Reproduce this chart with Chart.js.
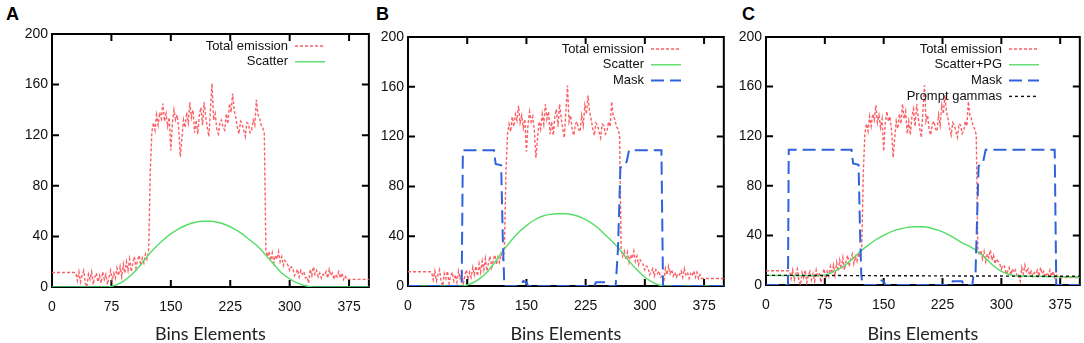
<!DOCTYPE html>
<html>
<head>
<meta charset="utf-8">
<script src="https://cdn.jsdelivr.net/npm/chart.js@4.4.1/dist/chart.umd.min.js"></script>
<style>
    body { margin: 0; background: #fff; width: 1084px; height: 343px; position: relative; overflow: hidden; }
    canvas { position: absolute; top: 0; }
    .tag { position: absolute; top: 6px; font: bold 18px/17px "Liberation Sans", Arial, sans-serif; color: #000; }
</style>
</head>
<body>
<div class="tag" style="left:6px">A</div>
<div class="tag" style="left:376px">B</div>
<div class="tag" style="left:742px">C</div>
<canvas id="chartA" width="373" height="343" style="left:0px"></canvas>
<canvas id="chartB" width="372" height="343" style="left:356px"></canvas>
<canvas id="chartC" width="370" height="343" style="left:714px"></canvas>
<script>
const xTicks = [0, 75, 150, 225, 300, 375];
const yTicks = [0, 40, 80, 120, 160, 200];

// total emission, one value every 2 bins from 0 to 400 (same in all panels)
const emissionStep = 2;
const emission = [
    11.5, 11.5, 11.5, 11.5, 11.5, 11.5, 11.5, 11.5, 11.5, 11.5, 11.5, 11.5, 11.5, 11.5, 11.5,
    11, 5, 12, 4, 9, 13, 3, 0, 10, 6, 12, 2, 8, 11, 4, 9, 3, 12, 6, 10, 2, 8,
    13, 5, 11, 7, 15, 9, 16, 8, 18, 11, 20, 13, 22, 12, 19, 24, 15, 21, 25, 17, 23, 19, 26, 22,
    28, 90, 122,
    130, 124, 136, 128, 138, 133, 145, 131, 137, 127,
    134, 108, 130, 140, 132, 136, 125, 103, 118, 132,
    126, 138, 130, 146, 134, 140, 122, 132, 121, 136,
    142, 128, 146, 135, 126, 119, 140, 161, 132, 137,
    125, 121, 130, 132, 126, 124, 137, 129, 145, 138,
    153, 140, 134, 126, 121, 131, 129, 124, 119, 130,
    129, 122, 124, 132, 128, 148, 136, 134, 128, 126,
    121,
    29, 24, 28, 21, 27, 19, 25, 22, 28, 20,
    24, 17, 21, 19, 17, 13, 16, 15, 9, 11,
    14, 8, 13, 10, 12, 7, 8, 3, 14, 9,
    16, 10, 13, 8, 11, 7, 10, 9, 12, 7,
    14, 9, 11, 6, 10, 8, 12, 7, 11, 6,
    9, 6,
    6, 6, 6, 6, 6, 6, 6, 6, 6, 6, 6, 6, 6, 6
];

const scatterX = [0, 70, 80, 90, 100, 110, 120, 130, 140, 150, 160, 170, 180, 190, 200, 210, 220, 230, 240, 250, 260, 270, 280, 290, 300, 310, 320, 330, 400];
const scatterA = [0, 0, 1.5, 4.5, 9.5, 16, 24, 31, 37, 42, 46, 49, 51, 52, 52, 51, 49, 46, 42, 37, 32, 25, 18, 11, 6.5, 3, 1, 0, 0];
const scatterB = [0, 0, 2, 5.5, 11, 19, 28, 36, 43, 48.5, 53, 56, 57.5, 58, 58, 57, 55, 51.5, 47, 41, 35, 28, 20, 13, 7, 3, 0.5, 0, 0];
const scatterPgC = [7.8, 7.6, 9, 12, 15.5, 21, 27, 32, 36.5, 40, 43, 45, 46.5, 47, 47, 46, 44, 41.5, 38, 34, 31, 27, 21.5, 15.5, 11, 8.5, 7.2, 7, 6.5];

const maskBX = [0, 68, 69.5, 109, 111, 118, 120, 122, 140, 144, 146, 150, 152, 236, 238, 250, 252, 263, 266, 269, 275, 277, 280, 321, 323, 400];
const maskB = [0, 0, 109, 109, 98, 97, 40, 0, 0, 2, 4, 3, 0, 0, 3, 3, 0, 0, 30, 95, 97, 100, 109, 109, 0, 0];
const maskCX = [0, 28, 29, 109, 111, 118, 120, 121.5, 123, 140, 144, 146, 150, 152, 236, 238, 250, 252, 263, 264.5, 267, 271, 275, 277, 280, 368, 370, 400];
const maskC = [0, 0, 109, 109, 98, 97, 40, 8, 0, 0, 2, 4, 3, 0, 0, 3, 3, 0, 0, 8, 8, 96, 97, 100, 109, 109, 0, 0];

const promptX = [0, 400];
const promptC = [7.8, 7];

const tickFont = { family: '"Liberation Sans", Arial, sans-serif', size: 14 };

function pts(xs, ys) {
    return ys.map((y, i) => ({ x: xs[i], y: y }));
}
const emissionPts = emission.map((y, i) => ({ x: i * emissionStep, y: y }));

function emissionSet() {
    return { label: 'Total emission', data: emissionPts, borderColor: '#fa6065', borderWidth: 1.4, borderDash: [3, 2], order: 3 };
}
function scatterSet(label, data) {
    return { label: label, data: data, borderColor: '#55dd66', borderWidth: 1.4, cubicInterpolationMode: 'monotone', order: 2 };
}
function maskSet(data) {
    return { label: 'Mask', data: data, borderColor: '#2f62dc', borderWidth: 2, borderDash: [13, 6], order: 1 };
}

// frame with inward ticks on all four sides, gnuplot style
const boxPlugin = {
    id: 'box',
    beforeDatasetsDraw(chart) {
        const { ctx, chartArea: a, scales } = chart;
        ctx.save();
        ctx.strokeStyle = '#000';
        ctx.lineWidth = 2;
        ctx.strokeRect(a.left, a.top, a.right - a.left, a.bottom - a.top);
        ctx.beginPath();
        xTicks.forEach(v => {
            const px = scales.x.getPixelForValue(v);
            ctx.moveTo(px, a.bottom); ctx.lineTo(px, a.bottom - 7);
            ctx.moveTo(px, a.top); ctx.lineTo(px, a.top + 7);
        });
        yTicks.forEach(v => {
            const py = scales.y.getPixelForValue(v);
            ctx.moveTo(a.left, py); ctx.lineTo(a.left + 7, py);
            ctx.moveTo(a.right, py); ctx.lineTo(a.right - 7, py);
        });
        ctx.stroke();
        ctx.restore();
    }
};

const legendPlugin = {
    id: 'insideLegend',
    afterDatasetsDraw(chart) {
        const { ctx, chartArea: a } = chart;
        ctx.save();
        ctx.font = '13px "Liberation Sans", Arial, sans-serif';
        ctx.textAlign = 'right';
        ctx.textBaseline = 'middle';
        chart.data.datasets.forEach((ds, i) => {
            const y = a.top + 12 + i * 15.8;
            const xt = a.left + 236;
            ctx.fillStyle = '#111';
            ctx.fillText(ds.label, xt, y);
            ctx.strokeStyle = ds.borderColor;
            ctx.lineWidth = ds.borderWidth;
            ctx.setLineDash(ds.borderDash || []);
            ctx.beginPath();
            ctx.moveTo(xt + 7, y);
            ctx.lineTo(xt + 37, y);
            ctx.stroke();
        });
        ctx.restore();
    }
};

function makePanel(id, datasets, top, right, xHeight) {
    new Chart(document.getElementById(id), {
        type: 'line',
        data: { datasets: datasets },
        options: {
            responsive: false,
            animation: false,
            layout: { padding: { top: top, right: right, left: 0, bottom: 0 } },
            elements: { point: { radius: 0 }, line: { tension: 0 } },
            plugins: { legend: { display: false }, tooltip: { enabled: false } },
            scales: {
                x: {
                    type: 'linear', min: 0, max: 400,
                    afterBuildTicks: s => { s.ticks = xTicks.map(v => ({ value: v })); },
                    afterFit: s => { s.height = xHeight; },
                    grid: { display: false, drawTicks: false },
                    border: { display: false },
                    ticks: { padding: 12, color: '#111', font: tickFont, maxRotation: 0 },
                    title: {
                        display: true, text: 'Bins Elements', color: '#222',
                        font: { family: 'Lato, "Open Sans", sans-serif', size: 18, lineHeight: 1 },
                        padding: { top: 0, bottom: 0 }
                    }
                },
                y: {
                    type: 'linear', min: 0, max: 200,
                    afterBuildTicks: s => { s.ticks = yTicks.map(v => ({ value: v })); },
                    afterFit: s => { s.width = 52; },
                    grid: { display: false, drawTicks: false },
                    border: { display: false },
                    ticks: { padding: 4, color: '#111', font: tickFont }
                }
            }
        },
        plugins: [boxPlugin, legendPlugin]
    });
}

makePanel('chartA', [
    emissionSet(),
    scatterSet('Scatter', pts(scatterX, scatterA))
], 34, 4, 56);

makePanel('chartB', [
    emissionSet(),
    scatterSet('Scatter', pts(scatterX, scatterB)),
    maskSet(pts(maskBX, maskB))
], 37, 4, 57);

makePanel('chartC', [
    emissionSet(),
    scatterSet('Scatter+PG', pts(scatterX, scatterPgC)),
    maskSet(pts(maskCX, maskC)),
    { label: 'Prompt gammas', data: pts(promptX, promptC), borderColor: '#111', borderWidth: 1.4, borderDash: [3, 3], order: 0 }
], 37, 2, 58);
</script>
</body>
</html>
